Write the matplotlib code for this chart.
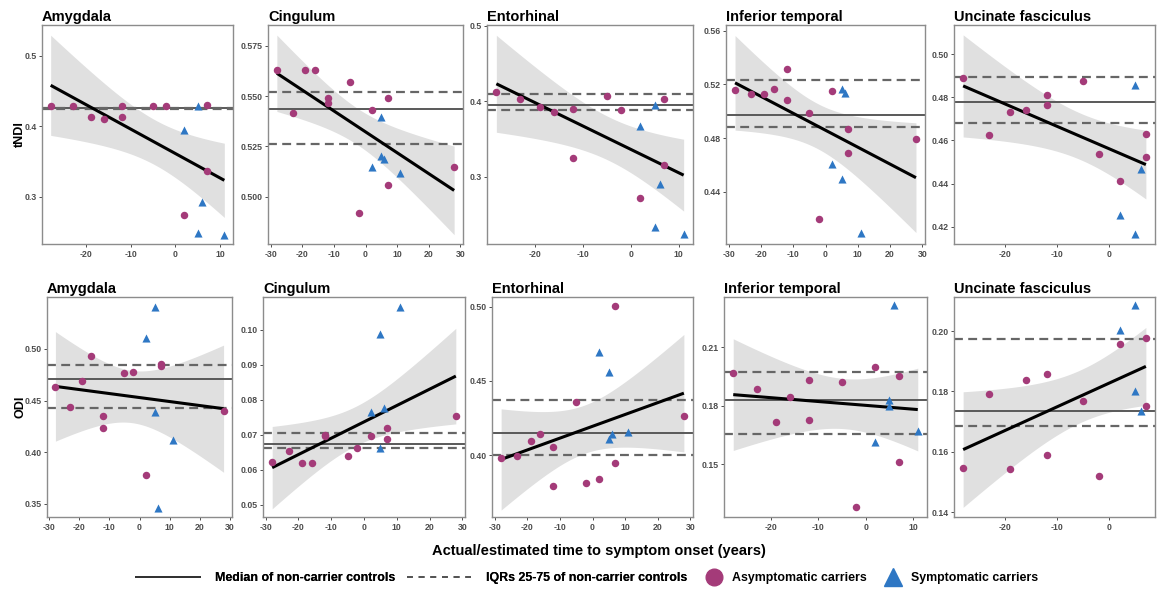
import numpy as np
import matplotlib
matplotlib.use("Agg")
import matplotlib.pyplot as plt
from matplotlib.lines import Line2D

plt.rcParams["font.family"] = ["Liberation Sans", "DejaVu Sans"]
plt.rcParams["axes.unicode_minus"] = False

# x positions (years to onset) shared by all panels
X_ASYM = [-28, -23, -19, -16, -12, -12, -5, -2, 2, 7, 7, 28]
X_SYM = [2, 5, 5, 6, 11]

TITLES = ["Amygdala", "Cingulum", "Entorhinal", "Inferior temporal", "Uncinate fasciculus"]
ROW_LABELS = ["tNDI", "ODI"]

# asymptomatic carriers (magenta circles), same order as X_ASYM
ASYM_Y = [
    [.429, .429, .414, .411, .429, .413, .429, .429, .274, .430, .336],
    [.5632, .5414, .5632, .5632, .5493, .5468, .5570, .4919, .5430, .5493, .5058, .5147],
    [.4127, .4031, .3925, .3855, .3899, .3248, .4079, .3890, .2723, .4031, .3158],
    [.5158, .5131, .5126, .5165, .5314, .5081, .4990, .4198, .5153, .4869, .4686, .4790],
    [.4888, .4623, .4732, .4743, .4809, .4763, .4874, .4537, .4414, .4631, .4522],
    [.4636, .4435, .4688, .4929, .4354, .4237, .4763, .4773, .3782, .4857, .4831, .4403],
    [.0622, .0652, .0618, .0619, .0699, .0695, .0638, .0662, .0695, .0720, .0688, .0754],
    [.3977, .3995, .4095, .4141, .4057, .3790, .4359, .3815, .3840, .5002, .3945, .4265],
    [.1968, .1886, .1719, .1845, .1932, .1725, .1923, .1281, .2001, .1954, .1512],
    [.1545, .1790, .1543, .1837, .1859, .1589, .1767, .1521, .1958, .1976, .1753],
]
# symptomatic carriers (blue triangles), same order as X_SYM
SYM_Y = [
    [.395, .429, .248, .292, .246],
    [.5146, .5399, .5204, .5189, .5118],
    [.367, .3956, .2336, .2903, .2248],
    [.461, .5163, .4494, .5133, .4091],
    [.4254, .4858, .4166, .4466],
    [.511, .5409, .4386, .3464, .4123],
    [.0766, .0986, .0662, .0775, .1065],
    [.4696, .4559, .4105, .4141, .4157],
    [.1617, .1830, .1800, .2314, .1673],
    [.2003, .2085, .1803, .1736],
]
# non-carrier controls: median, 75th, 25th percentile
CTRL_MED = [.4255, .5434, .3956, .4973, .4777, .4705, .0673, .4151, .1829, .1735]
CTRL_Q75 = [.4265, .5521, .4101, .5235, .4892, .4847, .0706, .4370, .1971, .1974]
CTRL_Q25 = [.4245, .5263, .3881, .4881, .4681, .4429, .0663, .4000, .1654, .1686]

YTICKS = [
    [0.3, 0.4, 0.5], [0.500, 0.525, 0.550, 0.575], [0.3, 0.4, 0.5],
    [0.44, 0.48, 0.52, 0.56], [0.42, 0.44, 0.46, 0.48, 0.50],
    [0.35, 0.40, 0.45, 0.50], [0.05, 0.06, 0.07, 0.08, 0.09, 0.10],
    [0.40, 0.45, 0.50], [0.15, 0.18, 0.21], [0.14, 0.16, 0.18, 0.20],
]
YFMT = ["%.1f", "%.3f", "%.1f", "%.2f", "%.2f", "%.2f", "%.2f", "%.2f", "%.2f", "%.2f"]
YLIMS = [(0.233, 0.544), (0.4765, 0.5854), (0.2112, 0.5013), (0.4012, 0.5642),
         (0.412, 0.5135), (0.3374, 0.5503), (0.0465, 0.1093), (0.3583, 0.5064),
         (0.1231, 0.2357), (0.1384, 0.2113)]

MAGENTA = "#A43B79"
BLUE = "#2E77C4"
TICK_C = "#4D4D4D"

W, H = 1157, 592
# axes boxes in pixels: left, right, top, bottom
BOXES = [
    (42, 233, 25, 244), (268, 463, 25, 244), (487, 693, 25, 244),
    (726, 925, 25, 244), (954, 1155, 25, 244),
    (47, 232, 297, 517), (263, 465, 297, 517), (492, 693, 297, 517),
    (724, 927, 297, 517), (954, 1155, 297, 517),
]

fig = plt.figure(figsize=(W / 100, H / 100), dpi=100)

for i in range(10):
    l, r, t, b = BOXES[i]
    ax = fig.add_axes([l / W, 1 - b / H, (r - l) / W, (b - t) / H])

    ya = np.array(ASYM_Y[i])
    ys = np.array(SYM_Y[i])
    xa = np.array(X_ASYM[:len(ya)], dtype=float)
    xs = np.array(X_SYM[:len(ys)], dtype=float)

    # linear fit with 95% CI over all carriers (as geom_smooth(method="lm"))
    x = np.concatenate([xa, xs])
    y = np.concatenate([ya, ys])
    n = len(x)
    slope, icpt = np.polyfit(x, y, 1)
    resid = y - (slope * x + icpt)
    s = np.sqrt(np.sum(resid ** 2) / (n - 2))
    sxx = np.sum((x - x.mean()) ** 2)
    tcrit = {13: 2.160, 14: 2.145, 15: 2.131}.get(n - 2, 2.131)
    xg = np.linspace(x.min(), x.max(), 100)
    fit = slope * xg + icpt
    se = s * np.sqrt(1 / n + (xg - x.mean()) ** 2 / sxx)
    ax.fill_between(xg, fit - tcrit * se, fit + tcrit * se, color="#E0E0E0", lw=0, zorder=1)

    ax.axhline(CTRL_MED[i], color="#595959", lw=1.4, zorder=2)
    for q in (CTRL_Q75[i], CTRL_Q25[i]):
        ax.axhline(q, color="#666666", lw=1.6, ls=(0, (4, 2.4)), zorder=2)

    ax.plot(xg, fit, color="black", lw=2.2, zorder=3, solid_capstyle="butt")
    ax.scatter(xa, ya, s=29, color=MAGENTA, marker="o", lw=0, zorder=4)
    ax.scatter(xs, ys, s=34, color=BLUE, marker="^", lw=0, zorder=4)

    span = x.max() - x.min()
    ax.set_xlim(x.min() - 0.05 * span, x.max() + 0.05 * span)
    ax.set_ylim(*YLIMS[i])
    xt = [v for v in range(-30, 31, 10) if x.min() - 0.05 * span <= v <= x.max() + 0.05 * span]
    ax.set_xticks(xt)
    ax.set_yticks(YTICKS[i])
    ax.set_yticklabels([YFMT[i] % v for v in YTICKS[i]])

    ax.tick_params(labelsize=6.3, colors=TICK_C, length=2.5, width=0.7, pad=1.5)
    for lab in ax.get_xticklabels() + ax.get_yticklabels():
        lab.set_fontweight("bold")
    for sp in ax.spines.values():
        sp.set_color("#8C8C8C")
        sp.set_linewidth(1.0)

    ax.set_title(TITLES[i % 5], loc="left", fontsize=10.5, fontweight="bold", pad=3)
    if i % 5 == 0:
        ax.set_ylabel(ROW_LABELS[i // 5], fontsize=9, fontweight="bold", labelpad=-1.5)

fig.text(0.518, 1 - 551 / H, "Actual/estimated time to symptom onset (years)",
         ha="center", va="center", fontsize=10.5, fontweight="bold")

line_handles = [Line2D([], [], color="#333333", lw=1.4),
                Line2D([], [], color="#555555", lw=1.4, ls=(0, (3, 3)))]
leg1 = fig.legend(line_handles, ["Median of non-carrier controls", "IQRs 25-75 of non-carrier controls"],
                  loc="center left", bbox_to_anchor=(125 / W, 1 - 578 / H), ncol=2, frameon=False,
                  handlelength=5.2, handletextpad=1.2, columnspacing=0.9,
                  prop={"size": 8.9, "weight": "bold"})
fig.add_artist(leg1)
mark_handles = [Line2D([], [], color=MAGENTA, marker="o", ls="", ms=12),
                Line2D([], [], color=BLUE, marker="^", ls="", ms=13)]
fig.legend(mark_handles, ["Asymptomatic carriers", "Symptomatic carriers"],
           loc="center left", bbox_to_anchor=(695 / W, 1 - 578 / H), ncol=2, frameon=False,
           handlelength=1.3, handletextpad=0.8, columnspacing=1.5,
           prop={"size": 8.9, "weight": "bold"})

fig.savefig("out.png", dpi=100)
